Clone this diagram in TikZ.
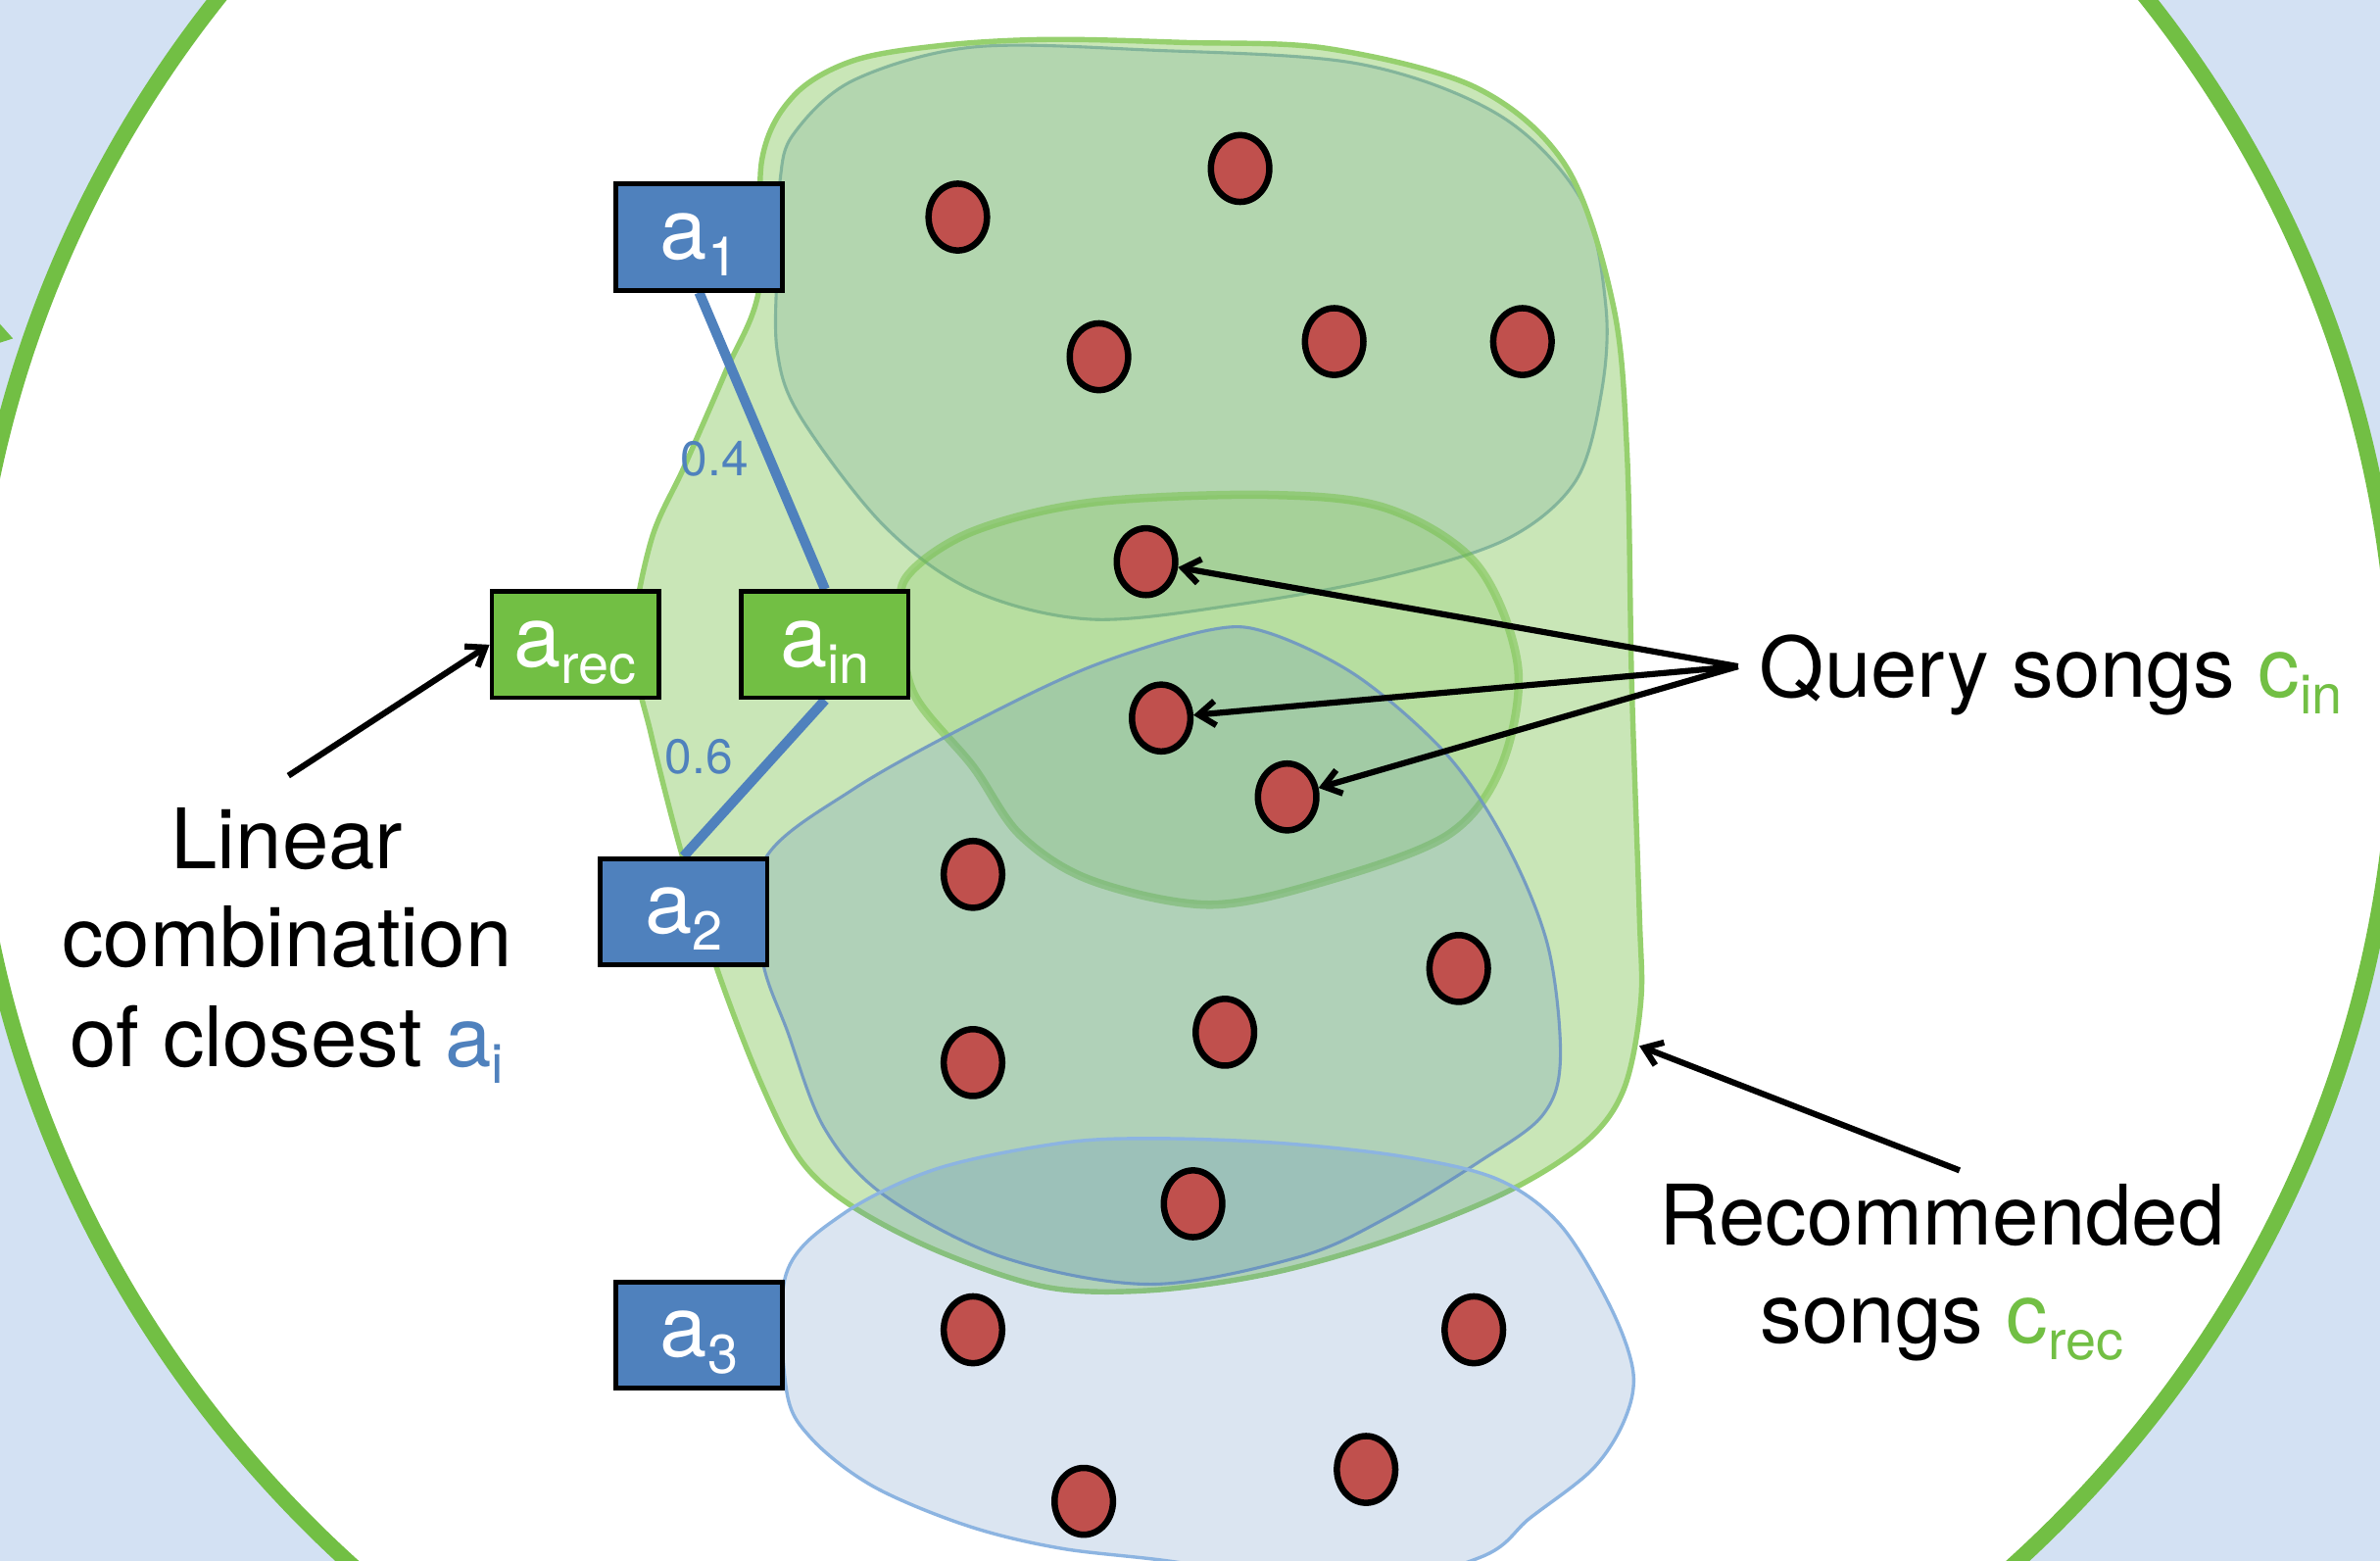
\documentclass[tikz,border=0pt]{standalone}
\usepackage{fontspec}
\setmainfont{TeX Gyre Heros}
\usetikzlibrary{shapes.geometric,arrows.meta,calc}

\definecolor{bgblue}{RGB}{211,225,243}
\definecolor{ringgreen}{RGB}{114,191,68}
\definecolor{boxblue}{RGB}{79,129,189}
\definecolor{dotred}{RGB}{192,80,77}
\definecolor{recedge}{RGB}{150,208,110}
\definecolor{aoneedge}{RGB}{120,160,200}
\definecolor{atwoedge}{RGB}{110,150,195}
\definecolor{athreeedge}{RGB}{140,180,225}

\pgfdeclarelayer{regions}
\pgfdeclarelayer{wires}
\pgfsetlayers{regions,wires,main}

% lowered subscript used in boxes and labels
\newcommand\lowsub[1]{\raisebox{-11pt}{\fontsize{36}{36}\selectfont #1}}

\tikzset{
  abox/.style={draw=black, line width=3pt, minimum width=110pt, minimum height=70pt,
    inner sep=0pt, text=white, font=\fontsize{56}{56}\selectfont,
    text height=39pt, text depth=10pt},
  bluebox/.style={abox, fill=boxblue},
  greenbox/.style={abox, fill=ringgreen},
  song/.style={ellipse, draw=black, line width=4.2pt, fill=dotred,
    minimum width=38.5pt, minimum height=44pt, inner sep=0pt},
  weight/.style={draw=boxblue, line width=6.5pt},
  wlabel/.style={text=boxblue, font=\fontsize{32}{32}\selectfont, inner sep=0pt},
  pointer/.style={draw=black, line width=4pt, -{Straight Barb[length=11pt,width=16pt]}},
  lbl/.style={font=\fontsize{55}{55}\selectfont, inner sep=0pt, anchor=base},
  blob/.style={smooth cycle, tension=0.55},
}

\begin{document}
\begin{tikzpicture}[x=1pt, y=-1pt]
\useasboundingbox (0,0) rectangle (1568,1028);
\clip (0,0) rectangle (1568,1028);

\begin{pgfonlayer}{regions}
% backdrop and the large ring
\fill[bgblue] (0,0) rectangle (1568,1028);
\filldraw[fill=white, draw=ringgreen, line width=10.5pt] (779,468) ellipse [x radius=800pt, y radius=772pt];
\fill[ringgreen] (-4,209) -- (8.5,223) -- (-4,227) -- cycle;

% neighbourhood of a1
\filldraw[fill=boxblue, fill opacity=0.2, draw=aoneedge, draw opacity=0.8, line width=2pt]
  plot[blob] coordinates {(514,118) (512,175) (512,231) (527,274) (582,346) (641,389) (719,408)
  (817,398) (914,380) (993,355) (1038,317) (1055,259) (1058,202) (1042,132) (988,76) (895,42)
  (758,33) (641,31) (562,53) (523,88)};

% recommended songs
\filldraw[fill=ringgreen, fill opacity=0.38, draw=recedge, line width=3.5pt]
  plot[blob] coordinates {(502,105) (523,63) (562,40) (620,30) (690,26) (780,28) (875,32)
  (973,58) (1032,110) (1063,202) (1072,300) (1075,450) (1080,600) (1081,660) (1070,717)
  (1045,752) (993,785) (914,817) (836,839) (758,850) (690,848) (620,825) (562,795) (528,765)
  (502,715) (473,640) (449,562) (429,484) (417,425) (429,356) (451,307) (478,245) (500,191)};

% query songs
\filldraw[fill=ringgreen, fill opacity=0.2, draw=ringgreen, draw opacity=0.5, line width=5.5pt]
  plot[blob] coordinates {(598,379) (641,350) (719,331) (836,326) (914,335) (973,372) (1000,439)
  (989,505) (954,550) (875,580) (797,596) (719,580) (672,550) (641,505) (602,457) (594,409)};

% neighbourhood of a2
\filldraw[fill=boxblue, fill opacity=0.2, draw=atwoedge, draw opacity=0.9, line width=2pt]
  plot[blob] coordinates {(504,566) (562,520) (641,476) (719,439) (797,415) (836,417) (895,446)
  (954,498) (993,557) (1020,624) (1028,698) (1016,735) (975,765) (914,802) (856,828) (758,846)
  (660,828) (582,787) (543,743) (519,680) (502,630)};

% neighbourhood of a3
\filldraw[fill=boxblue, fill opacity=0.2, draw=athreeedge, line width=2.2pt]
  plot[blob] coordinates {(518,839) (555,800) (617,770) (699,753) (761,750) (843,753) (925,762)
  (987,777) (1028,807) (1061,861) (1076,904) (1070,936) (1049,968) (1008,1000) (975,1026)
  (880,1050) (781,1030) (699,1020) (637,1005) (575,979) (534,947) (518,915)};
\end{pgfonlayer}

% songs
\node[song] (d1) at (631,143) {};
\node[song] (d2) at (817,111) {};
\node[song] (d3) at (724,235) {};
\node[song] (d4) at (879,225) {};
\node[song] (d5) at (1003,225) {};
\node[song] (d6) at (755,370) {};
\node[song] (d7) at (765,473) {};
\node[song] (d8) at (848,525) {};
\node[song] (d9) at (641,576) {};
\node[song] (d10) at (961,638) {};
\node[song] (d11) at (641,700) {};
\node[song] (d12) at (807,680) {};
\node[song] (d13) at (786,793) {};
\node[song] (d14) at (641,876) {};
\node[song] (d15) at (971,876) {};
\node[song] (d16) at (714,989) {};
\node[song] (d17) at (900,968) {};

% artist vectors
\node[bluebox] (a1) at (460.6,156.2) {a\lowsub{1}};
\node[greenbox] (ain) at (543.5,424.7) {a\lowsub{in}};
\node[bluebox] (a2) at (450.4,600.6) {a\lowsub{2}};
\node[greenbox] (arec) at (379,424.7) {a\lowsub{rec}};
\node[bluebox] (a3) at (460.6,879.5) {a\lowsub{3}};

\begin{pgfonlayer}{wires}
\draw[weight] (a1.south) -- (ain.north);
\draw[weight] (ain.south) -- (a2.north);
\end{pgfonlayer}

\node[wlabel] (w1) at (470.8,302.3) {0.4};
\node[wlabel] (w2) at (460.4,498.6) {0.6};

% captions
\node[lbl] (lin1) at (189,572.4) {Linear};
\node[lbl] (lin2) at (189,637) {combination};
\node[lbl] (lin3) at (189,702.6) {of closest \textcolor{boxblue}{a\lowsub{i}}};
\node[lbl, anchor=base west] (query) at (1159,459.5) {Query songs \textcolor{ringgreen}{c\lowsub{in}}};
\node[lbl] (rec1) at (1279.5,820.1) {Recommended};
\node[lbl] (rec2) at (1279.5,884.8) {songs \textcolor{ringgreen}{c\lowsub{rec}}};

% pointers
\coordinate (linsrc) at (190,511);
\draw[pointer] (linsrc) -- (arec.west);
\coordinate (qsrc) at (1145,439);
\draw[pointer] (qsrc) -- (d6);
\draw[pointer] (qsrc) -- (d7);
\draw[pointer] (qsrc) -- (d8);
\coordinate (recsrc) at (1291,771);
\coordinate (recend) at (1080,689);
\draw[pointer] (recsrc) -- (recend);
\end{tikzpicture}
\end{document}
